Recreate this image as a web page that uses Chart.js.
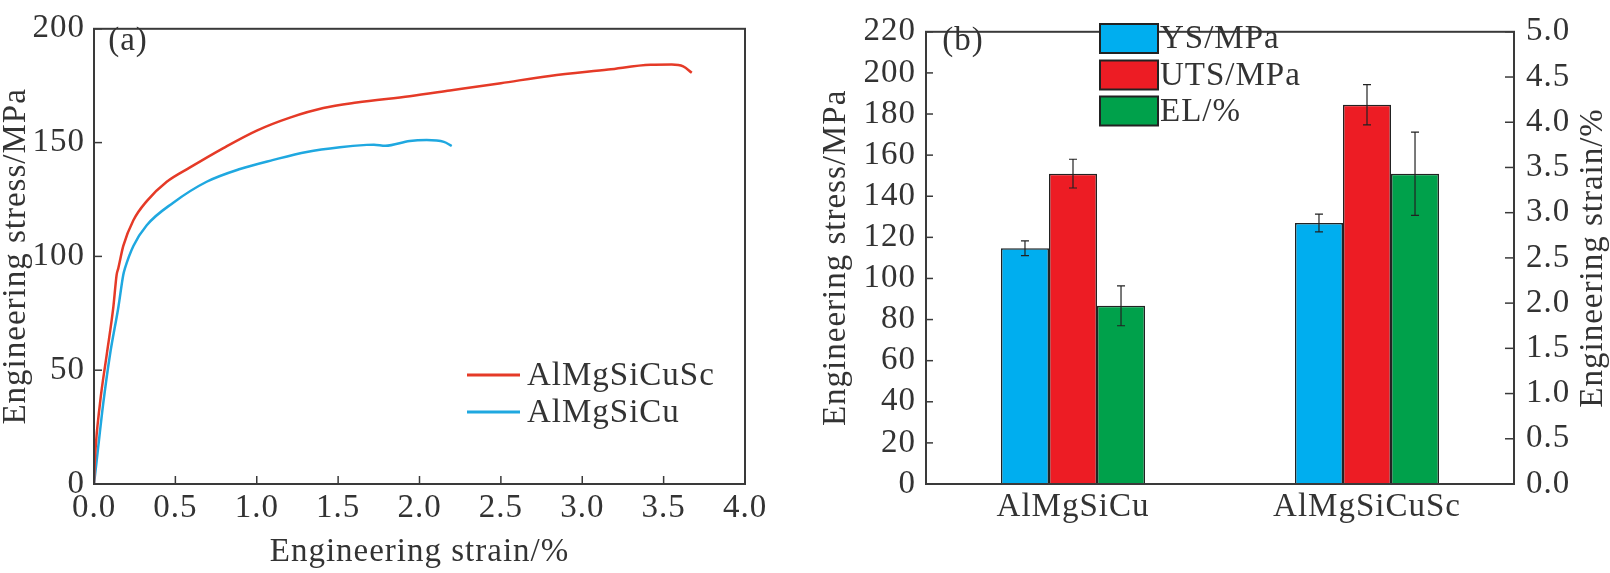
<!DOCTYPE html>
<html>
<head>
<meta charset="utf-8">
<script src="https://cdn.jsdelivr.net/npm/chart.js@4.4.0/dist/chart.umd.min.js"></script>
<style>
  body { margin: 0; background: #fff; }
  #wrap { position: relative; width: 1610px; height: 573px; }
  #chartA { position: absolute; left: 0; top: 0; }
  #chartB { position: absolute; left: 800px; top: 0; }
</style>
</head>
<body>
<div id="wrap">
  <canvas id="chartA" width="800" height="573"></canvas>
  <canvas id="chartB" width="810" height="573"></canvas>
</div>
<script>
// (a) stress-strain curves
const strainSc = [0, 0.005, 0.037, 0.078, 0.119, 0.139, 0.149, 0.18, 0.242, 0.324, 0.447, 0.59, 0.795, 1.0, 1.204, 1.409, 1.614, 1.94, 2.187, 2.5, 2.8, 3.16, 3.42, 3.55, 3.62, 3.673];
const stressSc = [0, 10, 35.5, 56.7, 77.8, 91.9, 94.7, 104.6, 115.9, 124.3, 132.8, 139.1, 147.6, 155.3, 161, 165.2, 167.6, 170.4, 172.9, 176.1, 179.3, 182.1, 184.2, 184.3, 183.5, 180.7];
const strainCu = [0, 0.016, 0.057, 0.098, 0.15, 0.18, 0.19, 0.242, 0.324, 0.487, 0.692, 0.897, 1.102, 1.307, 1.511, 1.676, 1.72, 1.79, 1.94, 2.044, 2.15, 2.198];
const stressCu = [0, 10, 35.5, 56.7, 77.8, 91.9, 94.7, 104.6, 113.7, 123.6, 132.8, 138.4, 142.4, 145.9, 148, 149, 149.1, 148.6, 150.7, 151.1, 150.3, 148.5];

// (b) tensile properties
const alloys = ['AlMgSiCu', 'AlMgSiCuSc'];
const ysVals = [114.7, 127];
const ysErr = [3.6, 4.3];
const utsVals = [151, 184.5];
const utsErr = [7, 9.8];
const elVals = [1.97, 3.43];
const elErr = [0.22, 0.46];

const txt = '#333333';
const gapSp = '1px';
Chart.defaults.font.family = "'Liberation Serif', 'Times New Roman', serif";
Chart.defaults.font.size = 33;
Chart.defaults.color = txt;

// a bit of letter spacing like the figure
const spacing = {
    id: 'spacing',
    beforeUpdate(chart) { chart.ctx.letterSpacing = gapSp; },
    beforeLayout(chart) { chart.ctx.letterSpacing = gapSp; },
    beforeDraw(chart) { chart.ctx.letterSpacing = gapSp; }
};

// box frame, inward ticks, in-plot legend and panel labels
const frame = {
    id: 'frame',
    afterDatasetsDraw(chart, args, opts) {
        const ctx = chart.ctx;
        const a = chart.chartArea;
        ctx.save();
        ctx.letterSpacing = gapSp;
        ctx.strokeStyle = '#3a3a3a';
        ctx.lineWidth = 2;
        ctx.strokeRect(a.left, a.top, a.right - a.left, a.bottom - a.top);
        ctx.lineWidth = 1.5;
        (opts.marks || []).forEach(m => {
            const s = chart.scales[m.id];
            s.ticks.forEach(t => {
                const p = s.getPixelForValue(t.value);
                ctx.beginPath();
                if (m.side === 'bottom') { ctx.moveTo(p, a.bottom); ctx.lineTo(p, a.bottom - m.len); }
                else if (m.side === 'left') { ctx.moveTo(a.left, p); ctx.lineTo(a.left + m.len, p); }
                else { ctx.moveTo(a.right, p); ctx.lineTo(a.right - m.len, p); }
                ctx.stroke();
            });
        });
        ctx.font = "33px 'Liberation Serif', serif";
        ctx.fillStyle = txt;
        ctx.textBaseline = 'middle';
        ctx.textAlign = 'center';
        if (opts.tag) ctx.fillText(opts.tag.text, opts.tag.x, opts.tag.y);
        ctx.textAlign = 'left';
        (opts.legend || []).forEach(item => {
            if (item.type === 'line') {
                ctx.strokeStyle = item.color;
                ctx.lineWidth = 3;
                ctx.beginPath();
                ctx.moveTo(item.x, item.y);
                ctx.lineTo(item.x + item.w, item.y);
                ctx.stroke();
            } else {
                ctx.fillStyle = item.color;
                ctx.fillRect(item.x, item.y - item.h / 2, item.w, item.h);
                ctx.strokeStyle = '#222';
                ctx.lineWidth = 2;
                ctx.strokeRect(item.x, item.y - item.h / 2, item.w, item.h);
            }
            ctx.fillStyle = txt;
            ctx.fillText(item.text, item.x + item.w + item.gap, item.y + 1);
        });
        if (opts.rightTitle) {
            ctx.translate(opts.rightTitle.x, (a.top + a.bottom) / 2);
            ctx.rotate(-Math.PI / 2);
            ctx.textAlign = 'center';
            ctx.fillText(opts.rightTitle.text, 0, 0);
        }
        ctx.restore();
    }
};

// error bars for the bar panel
const errorBars = {
    id: 'errorBars',
    afterDatasetsDraw(chart) {
        const ctx = chart.ctx;
        ctx.save();
        ctx.strokeStyle = '#222';
        ctx.lineWidth = 1.2;
        chart.data.datasets.forEach((ds, i) => {
            const meta = chart.getDatasetMeta(i);
            const scale = chart.scales[meta.yAxisID];
            meta.data.forEach((bar, j) => {
                const v = ds.data[j], e = ds.errors[j];
                const top = scale.getPixelForValue(v + e);
                const bot = scale.getPixelForValue(v - e);
                ctx.beginPath();
                ctx.moveTo(bar.x, top); ctx.lineTo(bar.x, bot);
                ctx.moveTo(bar.x - 4, top); ctx.lineTo(bar.x + 4, top);
                ctx.moveTo(bar.x - 4, bot); ctx.lineTo(bar.x + 4, bot);
                ctx.stroke();
            });
        });
        ctx.restore();
    }
};

function toPoints(xs, ys) {
    return xs.map((x, i) => ({ x: x, y: ys[i] }));
}

new Chart(document.getElementById('chartA'), {
    type: 'scatter',
    data: {
        datasets: [
            { label: 'AlMgSiCuSc', data: toPoints(strainSc, stressSc), showLine: true, borderColor: '#e53a27', borderWidth: 2.5, pointRadius: 0, cubicInterpolationMode: 'monotone' },
            { label: 'AlMgSiCu', data: toPoints(strainCu, stressCu), showLine: true, borderColor: '#1fa8e0', borderWidth: 2.5, pointRadius: 0, cubicInterpolationMode: 'monotone' }
        ]
    },
    options: {
        responsive: false,
        animation: false,
        devicePixelRatio: 1,
        layout: { padding: { left: 0, right: 55, top: 11, bottom: 0 } },
        scales: {
            x: {
                type: 'linear', min: 0, max: 4,
                grid: { display: false, drawTicks: false },
                border: { display: false },
                ticks: { stepSize: 0.5, padding: 5, autoSkip: false, maxRotation: 0, callback: v => v.toFixed(1) },
                title: { display: true, text: 'Engineering strain/%', padding: { top: 0, bottom: 1 } },
                afterFit(s) { s.height = 89; }
            },
            y: {
                min: 0, max: 200,
                grid: { display: false, drawTicks: false },
                border: { display: false },
                ticks: { stepSize: 50, padding: 9, autoSkip: false },
                title: { display: true, text: 'Engineering stress/MPa', padding: { top: -3, bottom: 0 } },
                afterFit(s) { s.width = 94; }
            }
        },
        plugins: {
            legend: { display: false },
            tooltip: { enabled: false },
            frame: {
                marks: [{ id: 'x', side: 'bottom', len: 8 }, { id: 'y', side: 'left', len: 8 }],
                tag: { text: '(a)', x: 128, y: 41 },
                legend: [
                    { type: 'line', color: '#e53a27', text: 'AlMgSiCuSc', x: 467, y: 375, w: 53, gap: 7 },
                    { type: 'line', color: '#1fa8e0', text: 'AlMgSiCu', x: 467, y: 412, w: 53, gap: 7 }
                ]
            }
        }
    },
    plugins: [spacing, frame]
});

new Chart(document.getElementById('chartB'), {
    type: 'bar',
    data: {
        labels: alloys,
        datasets: [
            { label: 'YS/MPa', data: ysVals, errors: ysErr, yAxisID: 'y', backgroundColor: '#00aeef', borderColor: '#222', borderWidth: 1.5 },
            { label: 'UTS/MPa', data: utsVals, errors: utsErr, yAxisID: 'y', backgroundColor: '#ed1c24', borderColor: '#222', borderWidth: 1.5 },
            { label: 'EL/%', data: elVals, errors: elErr, yAxisID: 'y1', backgroundColor: '#00a14b', borderColor: '#222', borderWidth: 1.5 }
        ]
    },
    options: {
        responsive: false,
        animation: false,
        devicePixelRatio: 1,
        layout: { padding: { left: 0, right: 0, top: 11, bottom: 0 } },
        datasets: { bar: { barPercentage: 1, categoryPercentage: 0.49 } },
        scales: {
            x: {
                grid: { display: false, drawTicks: false },
                border: { display: false },
                ticks: { padding: 4, autoSkip: false, maxRotation: 0 },
                afterFit(s) { s.height = 89; }
            },
            y: {
                position: 'left', min: 0, max: 220,
                grid: { display: false, drawTicks: false },
                border: { display: false },
                ticks: { stepSize: 20, padding: 10, autoSkip: false },
                title: { display: true, text: 'Engineering stress/MPa', padding: { top: 17, bottom: 0 } },
                afterFit(s) { s.width = 126; }
            },
            y1: {
                position: 'right', min: 0, max: 5,
                grid: { display: false, drawTicks: false },
                border: { display: false },
                ticks: { stepSize: 0.5, padding: 12, autoSkip: false, callback: v => v.toFixed(1) },
                afterFit(s) { s.width = 96; }
            }
        },
        plugins: {
            legend: { display: false },
            tooltip: { enabled: false },
            frame: {
                marks: [{ id: 'y', side: 'left', len: 7 }, { id: 'y1', side: 'right', len: 9 }],
                tag: { text: '(b)', x: 163, y: 41 },
                legend: [
                    { type: 'box', color: '#00aeef', text: 'YS/MPa', x: 300, y: 38.5, w: 58, h: 29, gap: 2 },
                    { type: 'box', color: '#ed1c24', text: 'UTS/MPa', x: 300, y: 75, w: 58, h: 29, gap: 2 },
                    { type: 'box', color: '#00a14b', text: 'EL/%', x: 300, y: 111, w: 58, h: 29, gap: 2 }
                ],
                rightTitle: { text: 'Engineering strain/%', x: 793 }
            }
        }
    },
    plugins: [spacing, errorBars, frame]
});
</script>
</body>
</html>
